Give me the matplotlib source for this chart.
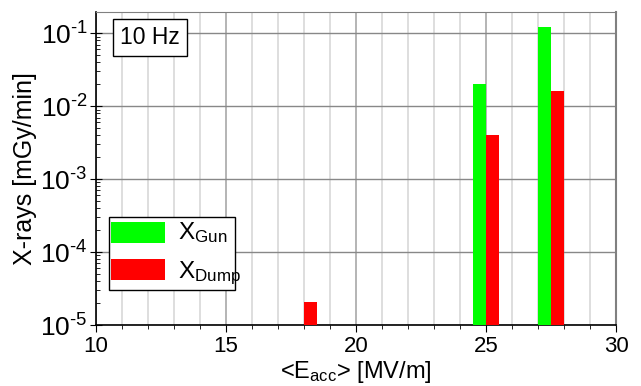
import numpy as np
import matplotlib.pyplot as plt
from matplotlib.patches import Rectangle
from matplotlib.ticker import LogLocator, MultipleLocator, NullFormatter, FuncFormatter

plt.rcParams['font.family'] = ['Liberation Sans', 'DejaVu Sans']
plt.rcParams['mathtext.fontset'] = 'custom'
plt.rcParams['mathtext.rm'] = 'Liberation Sans'
plt.rcParams['mathtext.it'] = 'Liberation Sans'
plt.rcParams['mathtext.default'] = 'regular'

# --------- data ---------
e_acc  = [18.0, 25.0, 27.5]          # group centers [MV/m]
x_gun  = [np.nan, 0.0202, 0.122]     # mGy/min
x_dump = [2.0e-5, 0.00403, 0.0162]
labels = [r"X$_{Gun}$", r"X$_{Dump}$"]
colors = ["#00ff00", "#ff0000"]
bar_w = 0.5

fig = plt.figure(figsize=(6.41, 3.86), dpi=100)
ax = fig.add_axes([0.1498, 0.158, 0.8112, 0.811])

x = np.array(e_acc)
ax.bar(x - bar_w/2, x_gun, width=bar_w, color=colors[0], zorder=3, bottom=1e-6)
ax.bar(x + bar_w/2, x_dump, width=bar_w, color=colors[1], zorder=3, bottom=1e-6)

ax.set_yscale("log")
ax.set_xlim(10, 30)
ax.set_ylim(1e-5, 0.196)

ax.xaxis.set_major_locator(MultipleLocator(5))
ax.xaxis.set_minor_locator(MultipleLocator(1))
ax.yaxis.set_major_locator(LogLocator(base=10, numticks=10))
ax.yaxis.set_minor_locator(LogLocator(base=10, subs=np.arange(2, 10), numticks=20))
ax.yaxis.set_minor_formatter(NullFormatter())
ax.yaxis.set_major_formatter(FuncFormatter(
    lambda v, p: r"10$^{\text{%d}}$" % int(round(np.log10(v)))))

# grid
ax.grid(which="minor", axis="x", color="#d8d8d8", lw=1.2, zorder=0)
ax.grid(which="major", axis="x", color="#a8a8a8", lw=1.2, zorder=0)
ax.grid(which="major", axis="y", color="#888888", lw=1.0, zorder=0)

ax.tick_params(axis="x", which="major", direction="out", length=5, labelsize=16, pad=3)
ax.tick_params(axis="x", which="minor", direction="out", length=3)
ax.tick_params(axis="y", which="major", direction="inout", length=8, labelsize=19, pad=2)
ax.tick_params(axis="y", which="minor", direction="in", length=3)

for s in ["top", "right"]:
    ax.spines[s].set_color("#808080")
ax.spines["right"].set_linewidth(1.5)
ax.spines["left"].set_linewidth(1.2)
ax.spines["bottom"].set_linewidth(1.2)

ax.set_xlabel(r"<E$_{acc}$> [MV/m]", fontsize=17, labelpad=1)
ax.set_ylabel("X-rays [mGy/min]", fontsize=18, labelpad=2)

ax.text(0.046, 0.955, "10 Hz", transform=ax.transAxes, fontsize=16.5, va="top", ha="left",
        bbox=dict(boxstyle="square,pad=0.3", fc="white", ec="black", lw=1.0), zorder=5)

# hand-drawn legend (text runs past the frame like in the original)
ax.add_patch(Rectangle((0.025, 0.112), 0.242, 0.233, transform=ax.transAxes,
                       fc="white", ec="black", lw=1.0, zorder=5))
for i, (lab, c) in enumerate(zip(labels, colors)):
    y0 = [0.262, 0.144][i]
    ax.add_patch(Rectangle((0.029, y0), 0.104, 0.068, transform=ax.transAxes,
                           fc=c, ec="none", zorder=6))
    ax.text(0.158, [0.275, 0.150][i], lab, transform=ax.transAxes, fontsize=17.5,
            va="baseline", ha="left", zorder=7)

fig.savefig("out.png", dpi=100)
